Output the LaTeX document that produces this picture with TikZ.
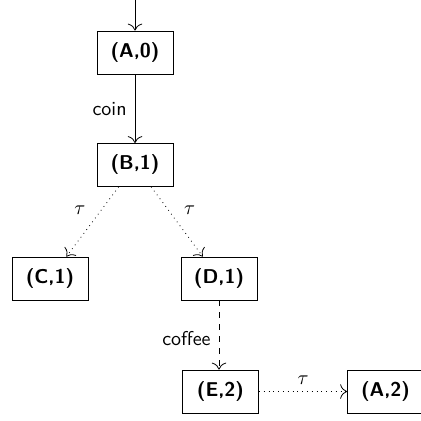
\documentclass[tikz,border=0pt]{standalone}
\usetikzlibrary{arrows.meta}
\begin{document}
\begin{tikzpicture}[x=0.5pt,y=-0.5pt,
  state/.style={draw, rectangle, font=\sffamily\bfseries, minimum width=38pt, minimum height=21.5pt, inner sep=2pt},
  trans/.style={-{To[scale=1.4]}},
  lbl/.style={font=\sffamily, inner sep=1pt}]
\useasboundingbox (0,0) rectangle (420,421);
\node[state] (A0) at (135,52.5) {(A,0)};
\node[state] (B1) at (135,165) {(B,1)};
\node[state] (C1) at (50,278.5) {(C,1)};
\node[state] (D1) at (219,278.5) {(D,1)};
\node[state] (E2) at (220.5,391.5) {(E,2)};
\node[state] (A2) at (385.5,391.5) {(A,2)};
\coordinate (start) at (135,0);
\draw[trans] (start) -- (A0);
\draw[trans] (A0) -- node[lbl, left=3pt] {coin} (B1);
\draw[trans, dotted] (B1) -- node[pos=0.5, above left=0pt] {$\tau$} (C1);
\draw[trans, dotted] (B1) -- node[pos=0.5, above right=0pt] {$\tau$} (D1);
\draw[trans, dashed] (D1) -- node[lbl, pos=0.55, left=3pt] {coffee} (D1 |- E2.north);
\draw[trans, dotted] (E2) -- node[above=0pt] {$\tau$} (A2);
\end{tikzpicture}
\end{document}
